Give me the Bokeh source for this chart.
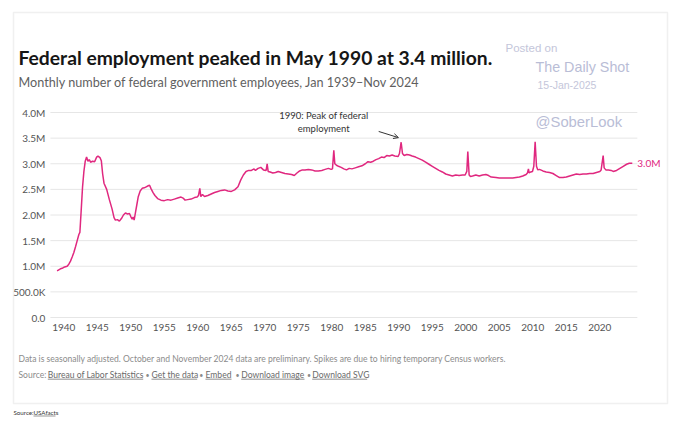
from bokeh.plotting import figure
from bokeh.models import (Label, BoxAnnotation, Arrow, OpenHead, FixedTicker, ColumnDataSource,
                          Range1d, LinearAxis)
from bokeh.embed import file_html
from bokeh.resources import INLINE

# ---------------- data ----------------
years = [1939.00, 1939.25, 1939.50, 1939.75, 1940.00, 1940.25, 1940.50, 1940.75, 1941.00, 1941.25,
         1941.50, 1941.75, 1942.00, 1942.25, 1942.40, 1942.60, 1942.80, 1943.00, 1943.20, 1943.40,
         1943.60, 1943.80, 1944.00, 1944.30, 1944.60, 1944.90, 1945.10, 1945.40, 1945.60, 1945.80,
         1946.00, 1946.40, 1946.80, 1947.20, 1947.50, 1947.70, 1948.00, 1948.30, 1948.60, 1948.90,
         1949.20, 1949.50, 1949.80, 1950.00, 1950.20, 1950.35, 1950.50, 1950.70, 1950.90, 1951.10,
         1951.40, 1951.70, 1952.00, 1952.30, 1952.60, 1952.80, 1953.00, 1953.30, 1953.60, 1954.00,
         1954.50, 1955.00, 1955.50, 1956.00, 1956.50, 1957.00, 1957.50, 1957.80, 1958.10, 1958.50,
         1959.00, 1959.50, 1959.90, 1960.10, 1960.30, 1960.45, 1960.70, 1961.00, 1961.50, 1962.00,
         1962.50, 1963.00, 1963.50, 1964.00, 1964.50, 1965.00, 1965.50, 1966.00, 1966.40, 1966.80,
         1967.20, 1967.60, 1968.00, 1968.40, 1968.60, 1969.00, 1969.40, 1969.80, 1970.20, 1970.35,
         1970.50, 1970.80, 1971.20, 1971.60, 1972.00, 1972.50, 1973.00, 1973.50, 1974.00, 1974.40,
         1974.80, 1975.20, 1975.60, 1976.00, 1976.50, 1977.00, 1977.50, 1978.00, 1978.50, 1979.00,
         1979.50, 1979.90, 1980.10, 1980.30, 1980.45, 1980.70, 1981.00, 1981.40, 1981.80, 1982.20,
         1982.60, 1983.00, 1983.50, 1984.00, 1984.50, 1985.00, 1985.40, 1985.80, 1986.20, 1986.60,
         1987.00, 1987.40, 1987.80, 1988.20, 1988.60, 1989.00, 1989.40, 1989.90, 1990.10, 1990.35,
         1990.55, 1990.80, 1991.20, 1991.60, 1992.00, 1992.50, 1993.00, 1993.50, 1994.00, 1994.50,
         1995.00, 1995.50, 1996.00, 1996.50, 1997.00, 1997.50, 1998.00, 1998.50, 1999.00, 1999.50,
         1999.90, 2000.15, 2000.30, 2000.50, 2000.70, 2001.00, 2001.50, 2002.00, 2002.50, 2003.00,
         2003.40, 2003.80, 2004.50, 2005.00, 2005.50, 2006.00, 2006.50, 2007.00, 2007.50, 2008.00,
         2008.50, 2009.00, 2009.20, 2009.35, 2009.45, 2009.70, 2009.95, 2010.15, 2010.35, 2010.55,
         2010.75, 2011.00, 2011.50, 2012.00, 2012.50, 2013.00, 2013.50, 2014.00, 2014.50, 2015.00,
         2015.50, 2016.00, 2016.50, 2017.00, 2017.50, 2018.00, 2018.50, 2019.00, 2019.50, 2020.00,
         2020.20, 2020.50, 2020.65, 2020.90, 2021.30, 2021.70, 2022.00, 2022.50, 2023.00, 2023.50,
         2024.00, 2024.40, 2024.85]

employees_millions = [0.91, 0.93, 0.95, 0.96, 0.98, 0.99, 1.00, 1.04, 1.10, 1.18,
                      1.27, 1.38, 1.50, 1.62, 1.66, 2.10, 2.55, 2.85, 3.05, 3.13,
                      3.05, 3.08, 3.03, 3.05, 3.04, 3.13, 3.15, 3.12, 3.06, 2.80,
                      2.62, 2.50, 2.30, 2.12, 1.95, 1.90, 1.91, 1.88, 1.93, 2.00,
                      2.04, 2.02, 2.03, 1.97, 1.92, 1.96, 1.90, 2.05, 2.20, 2.35,
                      2.47, 2.52, 2.53, 2.55, 2.57, 2.58, 2.52, 2.44, 2.38, 2.32,
                      2.29, 2.28, 2.30, 2.29, 2.31, 2.33, 2.35, 2.33, 2.29, 2.30,
                      2.31, 2.34, 2.35, 2.38, 2.52, 2.36, 2.40, 2.36, 2.38, 2.41,
                      2.44, 2.46, 2.48, 2.49, 2.47, 2.46, 2.49, 2.55, 2.68, 2.78,
                      2.85, 2.87, 2.87, 2.90, 2.87, 2.91, 2.93, 2.88, 2.87, 3.00,
                      2.85, 2.84, 2.82, 2.83, 2.85, 2.83, 2.81, 2.80, 2.79, 2.77,
                      2.82, 2.86, 2.88, 2.88, 2.89, 2.88, 2.86, 2.86, 2.87, 2.89,
                      2.91, 2.89, 2.90, 3.26, 3.00, 2.97, 2.95, 2.93, 2.90, 2.88,
                      2.91, 2.90, 2.92, 2.94, 2.96, 3.00, 3.04, 3.03, 3.05, 3.08,
                      3.10, 3.13, 3.12, 3.16, 3.15, 3.17, 3.15, 3.14, 3.20, 3.42,
                      3.20, 3.16, 3.18, 3.17, 3.15, 3.13, 3.10, 3.07, 3.03, 2.99,
                      2.95, 2.91, 2.87, 2.84, 2.80, 2.78, 2.76, 2.78, 2.77, 2.78,
                      2.78, 2.85, 3.24, 2.78, 2.75, 2.76, 2.78, 2.76, 2.78, 2.79,
                      2.77, 2.74, 2.73, 2.72, 2.72, 2.72, 2.72, 2.72, 2.73, 2.74,
                      2.76, 2.79, 2.82, 2.90, 2.82, 2.84, 2.85, 2.95, 3.43, 2.95,
                      2.88, 2.89, 2.86, 2.84, 2.83, 2.81, 2.77, 2.73, 2.73, 2.74,
                      2.76, 2.78, 2.80, 2.79, 2.80, 2.80, 2.81, 2.81, 2.83, 2.85,
                      2.88, 3.16, 2.92, 2.88, 2.88, 2.87, 2.85, 2.87, 2.91, 2.95,
                      2.99, 3.01, 3.01]

x_ticks = [1940, 1945, 1950, 1955, 1960, 1965, 1970, 1975, 1980, 1985,
           1990, 1995, 2000, 2005, 2010, 2015, 2020]
y_ticks = [0.0, 0.5, 1.0, 1.5, 2.0, 2.5, 3.0, 3.5, 4.0]
y_tick_labels = ["0.0", "500.0K", "1.0M", "1.5M", "2.0M", "2.5M", "3.0M", "3.5M", "4.0M"]
end_label = "3.0M"

title_text = "Federal employment peaked in May 1990 at 3.4 million."
subtitle_text = "Monthly number of federal government employees, Jan 1939\u2013Nov 2024"
annotation_lines = ["1990: Peak of federal", "employment"]
footnote_text = ("Data is seasonally adjusted. October and November 2024 data are preliminary. "
                 "Spikes are due to hiring temporary Census workers.")
source_prefix = "Source:"
source_links = ["Bureau of Labor Statistics", "Get the data", "Embed", "Download image", "Download SVG"]
outer_source_prefix = "Source:"
outer_source_link = "USAfacts"

LINE_COLOR = "#e0287f"
FONT = "Lato"

# ---------------- geometry ----------------
W, H = 680, 425
PX_PER_YEAR = 6.70          # horizontal scale of the chart
PX_PER_MILLION = 51.25      # vertical scale of the chart
X_AT_1940 = 63.3            # page x of year 1940
Y_AT_ZERO = 317.0           # page y of value 0
CHART_X0, CHART_X1 = 1938.0, 2025.6   # extent of plot area (years)

x_start = 1940 - X_AT_1940 / PX_PER_YEAR
x_end = x_start + W / PX_PER_YEAR
y_start = -(H - Y_AT_ZERO) / PX_PER_MILLION
y_end = y_start + H / PX_PER_MILLION

p = figure(width=W, height=H, output_backend="svg", toolbar_location=None,
           x_range=Range1d(x_start, x_end), y_range=Range1d(y_start, y_end),
           x_axis_location=None, y_axis_location=None,
           min_border=0, min_border_left=0, min_border_right=0,
           min_border_top=0, min_border_bottom=0,
           background_fill_color="white", border_fill_color="white", outline_line_color=None)
p.xgrid.visible = False
p.ygrid.visible = False

# horizontal grid lines at the y ticks, limited to the plot area
p.segment(x0=[CHART_X0] * len(y_ticks), x1=[CHART_X1] * len(y_ticks), y0=y_ticks, y1=y_ticks,
          line_color="#e6e6e6", line_width=1)

src = ColumnDataSource(dict(x=years, y=employees_millions))
p.line("x", "y", source=src, line_color=LINE_COLOR, line_width=1.5)

# axes drawn at fixed locations (no side-panel space)
xaxis = LinearAxis(fixed_location=0.0, ticker=FixedTicker(ticks=x_ticks))
yaxis = LinearAxis(fixed_location=CHART_X0, ticker=FixedTicker(ticks=y_ticks))
yaxis.major_label_overrides = {t: l for t, l in zip(y_ticks, y_tick_labels)}
for ax in (xaxis, yaxis):
    ax.axis_line_color = None
    ax.major_tick_line_color = None
    ax.minor_tick_line_color = None
    ax.major_tick_out = 0
    ax.major_tick_in = 0
    ax.minor_tick_out = 0
    ax.major_label_text_font = FONT
    ax.major_label_text_font_size = "10px"
    ax.major_label_text_color = "#555555"
xaxis.major_label_standoff = 6
yaxis.major_label_standoff = 5
p.add_layout(xaxis, "below")
p.add_layout(yaxis, "left")

# end value label
p.add_layout(Label(x=years[-1], y=employees_millions[-1], text=end_label, x_offset=5,
                   text_baseline="middle", text_font=FONT, text_font_size="10px",
                   text_color=LINE_COLOR))

# peak annotation
p.add_layout(Label(x=1978.8, y=3.95, text=annotation_lines[0], text_align="center",
                   text_baseline="middle", text_font=FONT, text_font_size="9.5px",
                   text_color="#333333"))
p.add_layout(Label(x=1978.8, y=3.68, text=annotation_lines[1], text_align="center",
                   text_baseline="middle", text_font=FONT, text_font_size="9.5px",
                   text_color="#333333"))
p.add_layout(Arrow(end=OpenHead(size=5, line_color="#333333", line_width=1),
                   x_start=1987.0, y_start=3.63, x_end=1989.95, y_end=3.51,
                   line_color="#333333", line_width=1))


# ---------------- page-positioned texts (frame covers the whole canvas) ----------------
def page_label(px, py, text, size, color, font=FONT, style="normal", baseline="alphabetic"):
    p.add_layout(Label(x=px, y=H - py, x_units="screen", y_units="screen", text=text,
                       text_font=font, text_font_size=size, text_color=color,
                       text_font_style=style, text_baseline=baseline, text_align="left"))


def underline(px0, px1, py, color, thickness=0.8):
    p.add_layout(BoxAnnotation(left=px0, right=px1, top=H - py, bottom=H - py - thickness,
                               left_units="screen", right_units="screen",
                               top_units="screen", bottom_units="screen",
                               fill_color=color, fill_alpha=1, line_color=None))


page_label(18, 57, title_text, "19.3px", "#161616", style="bold")
page_label(18, 82, subtitle_text, "12.65px", "#5f5f5f")
page_label(18, 358, footnote_text, "8.55px", "#8c8c8c")

# source line with links
SRC_Y = 374
SRC_COLOR = "#8c8c8c"
LINK_COLOR = "#6a6a6a"
page_label(18, SRC_Y, source_prefix, "8.55px", SRC_COLOR)
link_spans = [(47.3, 142.7), (151.0, 196.7), (205.0, 231.0), (240.7, 304.0), (311.7, 366.7)]
bullet_x = [145.0, 198.7, 235.0, 306.5]
for (x0, x1), txt in zip(link_spans, source_links):
    page_label(x0, SRC_Y, txt, "8.55px", LINK_COLOR)
    underline(x0, x1, SRC_Y + 4.3, LINK_COLOR)
for bx in bullet_x:
    page_label(bx, SRC_Y, "\u2022", "7px", SRC_COLOR)

# outer source (below the card)
page_label(13, 412, outer_source_prefix, "6.2px", "#333333")
page_label(33, 412, outer_source_link, "6.2px", "#333333")
underline(33, 55, 415.2, "#333333", 0.6)

# watermark
page_label(505, 47, "Posted on", "11.5px", "#c4c6da", font="Liberation Sans")
page_label(535, 66, "The Daily Shot", "14.3px", "#b9bdd6", font="Liberation Sans")
page_label(537, 84, "15-Jan-2025", "10.5px", "#c4c6da", font="Liberation Sans")
page_label(535, 121, "@SoberLook", "14.8px", "#b9bdd6", font="Liberation Sans")

# outer card border
p.add_layout(BoxAnnotation(left=13, right=667, top=H - 12, bottom=H - 403,
                           left_units="screen", right_units="screen",
                           top_units="screen", bottom_units="screen",
                           fill_color=None, fill_alpha=0, line_color="#cccccc", line_width=1.5))

open("out.html", "w").write(file_html(p, INLINE))
